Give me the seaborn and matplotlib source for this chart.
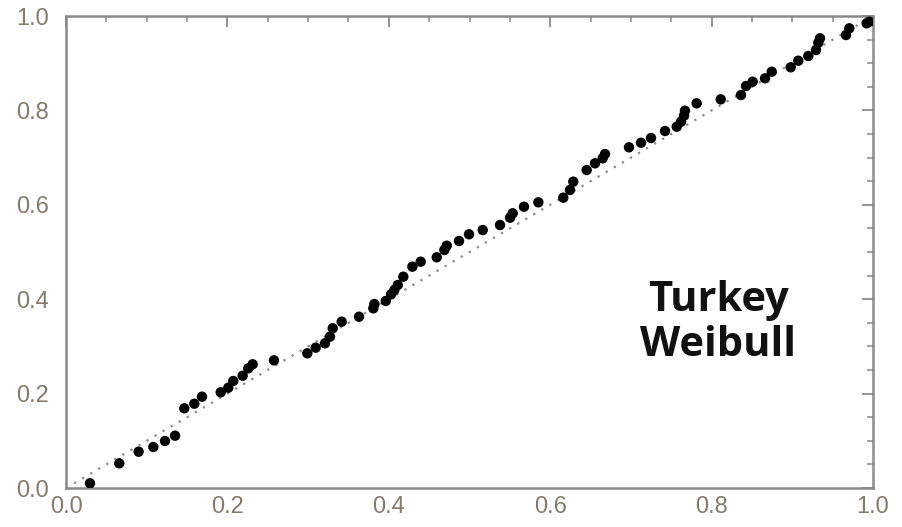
import matplotlib
matplotlib.use("Agg")
import matplotlib.pyplot as plt
import seaborn as sns
import pandas as pd
from matplotlib.ticker import MultipleLocator

x_vals = [0.0297, 0.0660, 0.0900, 0.1082, 0.1227, 0.1351, 0.1466, 0.1590, 0.1685, 0.1917,
          0.2011, 0.2073, 0.2189, 0.2259, 0.2313, 0.2577, 0.2990, 0.3094, 0.3209, 0.3271,
          0.3305, 0.3416, 0.3631, 0.3808, 0.3821, 0.3962, 0.4028, 0.4069, 0.4111, 0.4180,
          0.4292, 0.4395, 0.4594, 0.4688, 0.4718, 0.4870, 0.4994, 0.5164, 0.5378, 0.5502,
          0.5535, 0.5675, 0.5853, 0.6162, 0.6245, 0.6286, 0.6452, 0.6555, 0.6650, 0.6679,
          0.6976, 0.7125, 0.7249, 0.7423, 0.7568, 0.7621, 0.7658, 0.7670, 0.7815, 0.8113,
          0.8364, 0.8426, 0.8509, 0.8662, 0.8745, 0.8980, 0.9074, 0.9198, 0.9294, 0.9322,
          0.9343, 0.9665, 0.9706, 0.9921, 0.9954]
y_vals = [0.0100, 0.0523, 0.0769, 0.0869, 0.0996, 0.1108, 0.1688, 0.1786, 0.1935, 0.2028,
          0.2125, 0.2267, 0.2379, 0.2536, 0.2621, 0.2705, 0.2854, 0.2973, 0.3065, 0.3206,
          0.3384, 0.3523, 0.3629, 0.3807, 0.3898, 0.3962, 0.4104, 0.4195, 0.4301, 0.4477,
          0.4689, 0.4795, 0.4888, 0.5042, 0.5134, 0.5233, 0.5375, 0.5466, 0.5572, 0.5727,
          0.5820, 0.5960, 0.6053, 0.6151, 0.6314, 0.6490, 0.6737, 0.6879, 0.6985, 0.7076,
          0.7218, 0.7316, 0.7415, 0.7564, 0.7655, 0.7761, 0.7888, 0.7994, 0.8151, 0.8235,
          0.8326, 0.8517, 0.8608, 0.8680, 0.8820, 0.8913, 0.9053, 0.9153, 0.9280, 0.9434,
          0.9528, 0.9597, 0.9739, 0.9845, 0.9879]
ref_x = [0.0, 1.0]
ref_y = [0.0, 1.0]
tick_vals = [0.0, 0.2, 0.4, 0.6, 0.8, 1.0]
tick_labels = ["0.0", "0.2", "0.4", "0.6", "0.8", "1.0"]
annotation = "Turkey\nWeibull"

sns.set_style("white")
plt.rcParams['font.family'] = ['Liberation Sans', 'DejaVu Sans']

fig = plt.figure(figsize=(9.03, 5.27), dpi=100)
ax = fig.add_axes([0.0731, 0.074, 0.8937, 0.8956])

ref_df = pd.DataFrame({"x": ref_x, "y": ref_y})
sns.lineplot(data=ref_df, x="x", y="y", ax=ax, color="#8a8a8a",
             linestyle=(0, (1, 3.2)), linewidth=1.6, zorder=1)

df = pd.DataFrame({"x": x_vals, "y": y_vals})
sns.scatterplot(data=df, x="x", y="y", ax=ax, color="black", s=56,
                edgecolor="none", zorder=3)

ax.set_xlim(0, 1)
ax.set_ylim(0, 1)
ax.set_xticks(tick_vals)
ax.set_xticklabels(tick_labels)
ax.set_yticks(tick_vals)
ax.set_yticklabels(tick_labels)
ax.xaxis.set_minor_locator(MultipleLocator(0.05))
ax.yaxis.set_minor_locator(MultipleLocator(0.05))
ax.set_xlabel("")
ax.set_ylabel("")

lab_col = "#857a6c"
ax.tick_params(which="both", direction="in", top=True, right=True,
               color="#8a8a8a", labelcolor=lab_col, labelsize=17)
ax.tick_params(which="major", length=8, width=1.3)
ax.tick_params(which="minor", length=4.5, width=1.1)
ax.tick_params(axis="x", pad=6)
ax.tick_params(axis="y", pad=12)
for sp in ax.spines.values():
    sp.set_visible(True)
    sp.set_color("#8a8a8a")
    sp.set_linewidth(1.8)

ax.text(0.808, 0.35, annotation, ha="center", va="center", fontsize=30,
        fontweight="bold", family=["Open Sans", "DejaVu Sans"],
        linespacing=1.12, color="#111111")

fig.savefig("out.png", dpi=100)
